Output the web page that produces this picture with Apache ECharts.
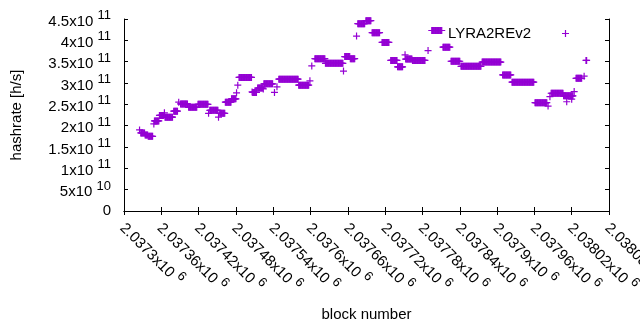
<!DOCTYPE html>
<html>
<head>
<meta charset="utf-8">
<title>hashrate</title>
<script src="https://cdn.jsdelivr.net/npm/echarts@6/dist/echarts.min.js"></script>
<style>
    html, body { margin: 0; background: #fff; }
    #chart { width: 640px; height: 330px; }
</style>
</head>
<body>
<div id="chart"></div>
<script>
    var seriesName = 'LYRA2REv2';
    // runs of blocks sharing one hashrate value (start block, end block, value)
    var runStart = [2037325, 2037327, 2037334, 2037339, 2037348, 2037349, 2037357, 2037365, 2037366, 2037380,
        2037388, 2037391, 2037404, 2037419, 2037436, 2037438, 2037452, 2037454, 2037463, 2037473,
        2037481, 2037483, 2037485, 2037506, 2037507, 2037515, 2037524, 2037525, 2037542, 2037546,
        2037549, 2037581, 2037599, 2037602, 2037607, 2037624, 2037653, 2037655, 2037664, 2037674,
        2037676, 2037689, 2037699, 2037715, 2037729, 2037740, 2037752, 2037753, 2037764, 2037789,
        2037795, 2037813, 2037826, 2037842, 2037876, 2037909, 2037924, 2037961, 2037982, 2037985,
        2037987, 2038007, 2038012, 2038020, 2038024, 2038027, 2038040, 2038043];
    var runEnd = [2037325, 2037333, 2037338, 2037346, 2037348, 2037356, 2037364, 2037365, 2037378, 2037386,
        2037388, 2037402, 2037417, 2037435, 2037436, 2037451, 2037452, 2037462, 2037472, 2037480,
        2037481, 2037483, 2037505, 2037506, 2037513, 2037523, 2037524, 2037539, 2037542, 2037546,
        2037580, 2037597, 2037599, 2037602, 2037623, 2037652, 2037653, 2037663, 2037671, 2037674,
        2037687, 2037697, 2037711, 2037726, 2037739, 2037748, 2037752, 2037763, 2037784, 2037789,
        2037811, 2037824, 2037840, 2037874, 2037906, 2037922, 2037959, 2037980, 2037982, 2037985,
        2038006, 2038022, 2038012, 2038020, 2038024, 2038036, 2038040, 2038044];
    var runValue = [1.90e11, 1.83e11, 1.78e11, 1.75e11, 2.04e11, 2.11e11, 2.24e11, 2.30e11, 2.20e11, 2.34e11,
        2.55e11, 2.51e11, 2.43e11, 2.50e11, 2.29e11, 2.36e11, 2.20e11, 2.29e11, 2.55e11, 2.63e11,
        2.77e11, 2.95e11, 3.13e11, 2.79e11, 2.78e11, 2.88e11, 2.86e11, 2.98e11, 2.78e11, 2.91e11,
        3.09e11, 2.95e11, 3.05e11, 3.40e11, 3.57e11, 3.46e11, 3.28e11, 3.62e11, 3.57e11, 4.10e11,
        4.39e11, 4.46e11, 4.18e11, 3.95e11, 3.53e11, 3.38e11, 3.66e11, 3.56e11, 3.53e11, 3.76e11,
        4.23e11, 3.84e11, 3.51e11, 3.39e11, 3.49e11, 3.19e11, 3.02e11, 2.54e11, 2.46e11, 2.68e11,
        2.76e11, 2.70e11, 2.56e11, 2.62e11, 2.80e11, 3.11e11, 3.16e11, 3.53e11];

    var xMin = 2037300, xMax = 2038080, xStep = 60;
    var yMin = 0, yMax = 4.5e11, yStep = 5e10;

    var points = [];
    for (var i = 0; i < runStart.length; i++) {
        for (var b = runStart[i]; b <= runEnd[i]; b++) {
            points.push([b, runValue[i]]);
        }
    }

    var font = 'Liberation Sans';
    var plus = 'path://M0,2.9H7V4.1H0Z M2.9,0H4.1V7H2.9Z';

    // 4.5e11 -> "4.5x10" with a raised "11"
    function sci(v) {
        if (v === 0) return '{m|0}';
        var e = Math.floor(Math.log10(v) + 1e-9);
        var m = parseFloat((v / Math.pow(10, e)).toFixed(6));
        return '{m|' + m + 'x10 }{e|' + e + '}';
    }
    var rich = {
        m: { fontSize: 15, fontFamily: font, color: '#000', verticalAlign: 'bottom' },
        e: { fontSize: 13, fontFamily: font, color: '#000', verticalAlign: 'bottom', padding: [0, 0, 7, 0] }
    };

    var line = { show: true, lineStyle: { color: '#000', width: 1 } };
    var tick = { show: true, inside: true, length: 4, lineStyle: { color: '#000' } };

    var chart = echarts.init(document.getElementById('chart'));
    chart.setOption({
        animation: false,
        grid: { left: 124, right: 31, top: 19, bottom: 119, containLabel: false, outerBoundsMode: 'none' },
        legend: {
            right: 66, top: 21, align: 'right',
            itemWidth: 7, itemHeight: 7, icon: plus,
            textStyle: { fontSize: 15, fontFamily: font, color: '#000', padding: [0, 26, 0, 0] },
            data: [seriesName]
        },
        xAxis: [{
            type: 'value', min: xMin, max: xMax, interval: xStep,
            name: 'block number', nameLocation: 'middle', nameGap: 96,
            nameTextStyle: { fontSize: 15, fontFamily: font, color: '#000' },
            axisLine: line, axisTick: tick, splitLine: { show: false },
            axisLabel: { rotate: -45, margin: 13, formatter: sci, rich: rich }
        }, {
            type: 'value', min: xMin, max: xMax, interval: xStep, position: 'top',
            axisLine: line, axisTick: tick, splitLine: { show: false },
            axisLabel: { show: false }
        }],
        yAxis: [{
            type: 'value', min: yMin, max: yMax, interval: yStep,
            name: 'hashrate [h/s]', nameLocation: 'middle', nameGap: 100,
            nameTextStyle: { fontSize: 15, fontFamily: font, color: '#000' },
            axisLine: line, axisTick: tick, splitLine: { show: false },
            axisLabel: { margin: 13, formatter: sci, rich: rich }
        }, {
            type: 'value', min: yMin, max: yMax, interval: yStep, position: 'right',
            axisLine: line, axisTick: tick, splitLine: { show: false },
            axisLabel: { show: false }
        }],
        series: [{
            name: seriesName,
            type: 'scatter',
            symbol: plus,
            symbolSize: 7,
            itemStyle: { color: '#9400d3', opacity: 1 },
            data: points
        }]
    });
</script>
</body>
</html>
